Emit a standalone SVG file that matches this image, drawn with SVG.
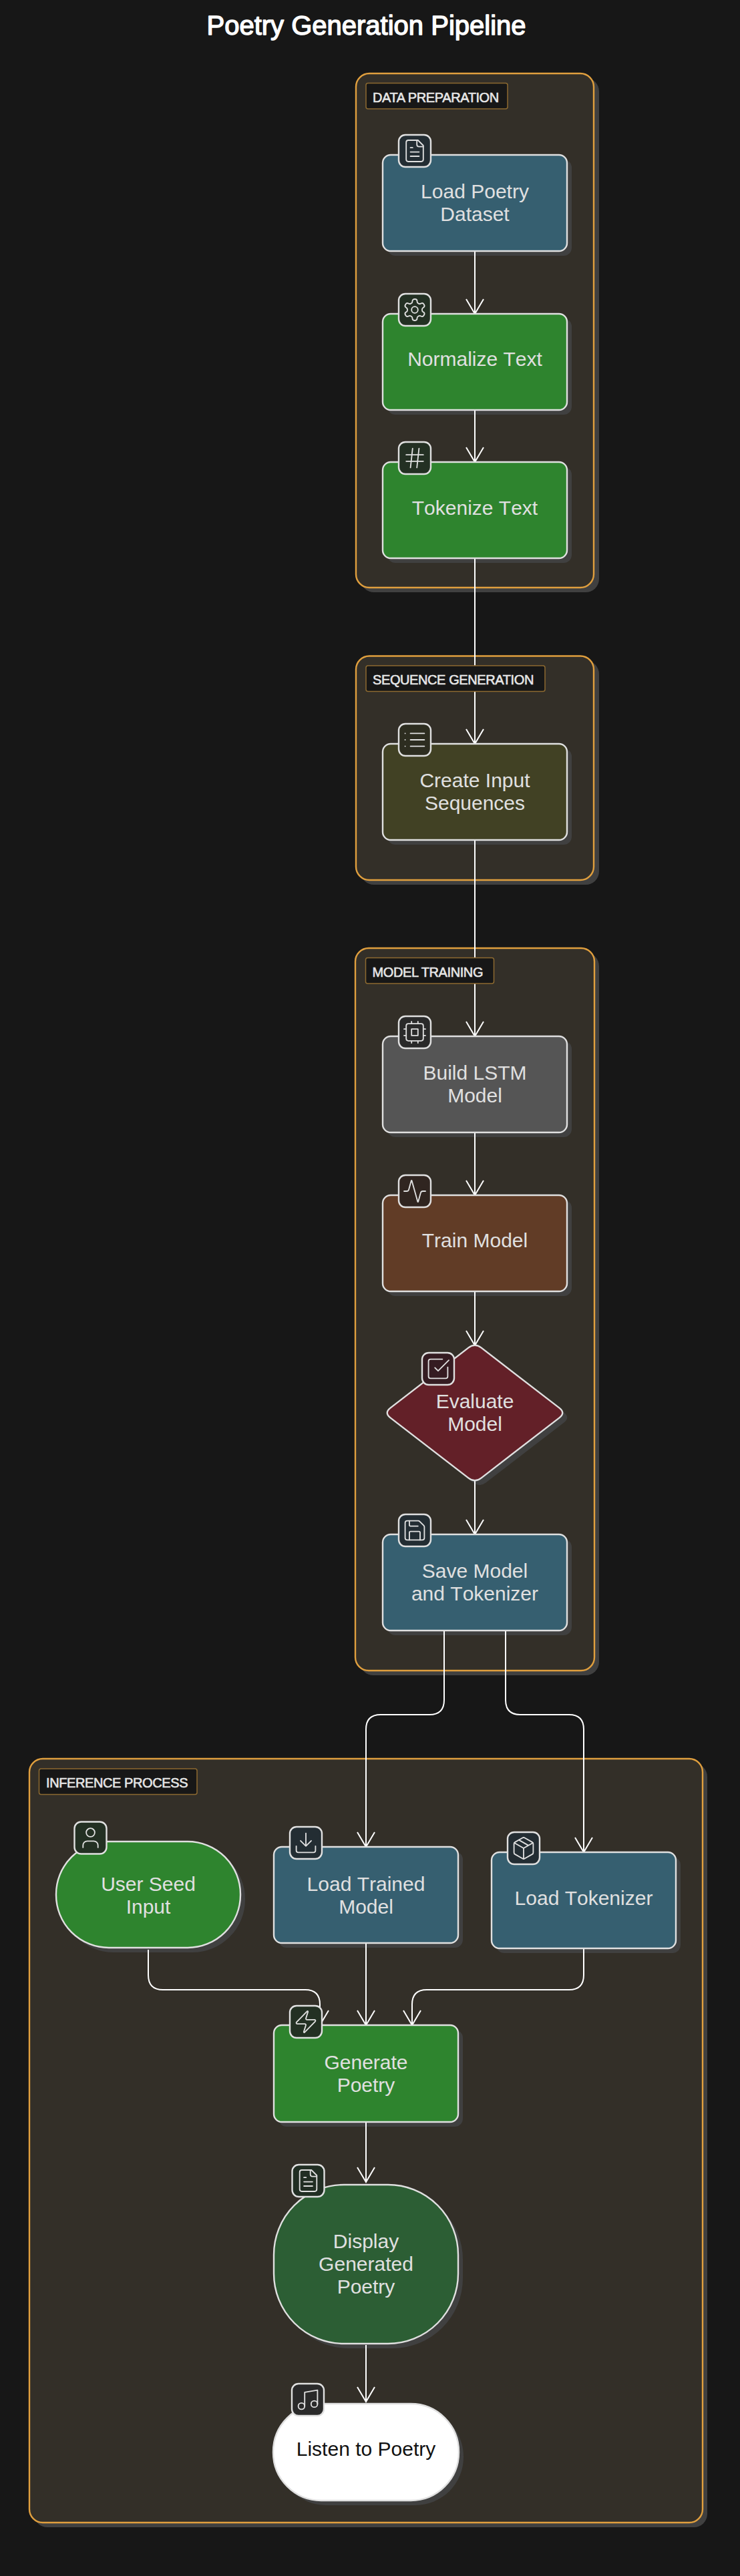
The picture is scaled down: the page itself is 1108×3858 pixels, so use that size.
<svg xmlns="http://www.w3.org/2000/svg" width="1108" height="3858" viewBox="0 0 1108 3858">
<style>
.bg{fill:#171717}
.cl{fill:#332f28;stroke:#e09f3e;stroke-width:2.4}
.sh{fill:#404040}
.lb{fill:#171717;stroke:#8d6a30;stroke-width:1.5}
.lt{font:20px "Liberation Sans",Arial,sans-serif;fill:#e6e6e6;stroke:#e6e6e6;stroke-width:.6;paint-order:stroke;letter-spacing:-.4px}
.n{stroke:#e0e0e0;stroke-width:2.4}
.t{font:30px "Liberation Sans",Arial,sans-serif;font-kerning:none;fill:#e0e0e0;text-anchor:middle}
.ib{stroke:#e0e0e0;stroke-width:2.4}
.ic{fill:none;stroke:#e0e0e0;stroke-width:1.15;stroke-linecap:round;stroke-linejoin:round}
.e{fill:none;stroke:#fff;stroke-width:2;marker-end:url(#arrow)}
.blue{fill:#365f70}.green{fill:#2e842e}.olive{fill:#414124}.gray{fill:#555}.brown{fill:#613c26}.red{fill:#632028}.dgreen{fill:#2c5e34}
.title{font:40px "Liberation Sans",Arial,sans-serif;fill:#fff;stroke:#fff;stroke-width:1.4;stroke-linejoin:round;text-anchor:middle}
</style>
<defs>
<marker id="arrow" markerUnits="userSpaceOnUse" markerWidth="30" markerHeight="32" refX="24" refY="16" orient="auto"><path d="M2 3L24 16L2 29" fill="none" stroke="#fff" stroke-width="2"/></marker>
<symbol id="i-file" viewBox="0 0 24 24"><path class="ic" d="M15 2H6a2 2 0 0 0-2 2v16a2 2 0 0 0 2 2h12a2 2 0 0 0 2-2V7Z"/><path class="ic" d="M14 2v4a2 2 0 0 0 2 2h4M10 9H8M16 13H8M16 17H8"/></symbol>
<symbol id="i-gear" viewBox="0 0 24 24"><path class="ic" d="M12.22 2h-.44a2 2 0 0 0-2 2v.18a2 2 0 0 1-1 1.73l-.43.25a2 2 0 0 1-2 0l-.15-.08a2 2 0 0 0-2.73.73l-.22.38a2 2 0 0 0 .73 2.73l.15.1a2 2 0 0 1 1 1.72v.51a2 2 0 0 1-1 1.74l-.15.09a2 2 0 0 0-.73 2.73l.22.38a2 2 0 0 0 2.73.73l.15-.08a2 2 0 0 1 2 0l.43.25a2 2 0 0 1 1 1.73V20a2 2 0 0 0 2 2h.44a2 2 0 0 0 2-2v-.18a2 2 0 0 1 1-1.73l.43-.25a2 2 0 0 1 2 0l.15.08a2 2 0 0 0 2.73-.73l.22-.39a2 2 0 0 0-.73-2.73l-.15-.08a2 2 0 0 1-1-1.74v-.5a2 2 0 0 1 1-1.74l.15-.09a2 2 0 0 0 .73-2.73l-.22-.38a2 2 0 0 0-2.73-.73l-.15.08a2 2 0 0 1-2 0l-.43-.25a2 2 0 0 1-1-1.73V4a2 2 0 0 0-2-2z"/><circle class="ic" cx="12" cy="12" r="3"/></symbol>
<symbol id="i-hash" viewBox="0 0 24 24"><path class="ic" d="M4 9H20M4 15H20M10 3L8 21M16 3L14 21"/></symbol>
<symbol id="i-list" viewBox="0 0 24 24"><path class="ic" d="M3 12h.01M3 18h.01M3 6h.01M8 12h13M8 18h13M8 6h13"/></symbol>
<symbol id="i-cpu" viewBox="0 0 24 24"><rect class="ic" x="4" y="4" width="16" height="16" rx="2"/><rect class="ic" x="9" y="9" width="6" height="6"/><path class="ic" d="M15 2v2M15 20v2M2 15h2M2 9h2M20 15h2M20 9h2M9 2v2M9 20v2"/></symbol>
<symbol id="i-activity" viewBox="0 0 24 24"><path class="ic" d="M22 12h-2.48a2 2 0 0 0-1.93 1.46l-2.35 8.36a.25.25 0 0 1-.48 0L9.24 2.18a.25.25 0 0 0-.48 0l-2.35 8.36A2 2 0 0 1 4.49 12H2"/></symbol>
<symbol id="i-check" viewBox="0 0 24 24"><path class="ic" d="M21 10.5V19a2 2 0 0 1-2 2H5a2 2 0 0 1-2-2V5a2 2 0 0 1 2-2h11"/><path class="ic" d="m9 11 3 3L22 4"/></symbol>
<symbol id="i-save" viewBox="0 0 24 24"><path class="ic" d="M15.2 3a2 2 0 0 1 1.4.6l3.8 3.8a2 2 0 0 1 .6 1.4V19a2 2 0 0 1-2 2H5a2 2 0 0 1-2-2V5a2 2 0 0 1 2-2z"/><path class="ic" d="M17 21v-7a1 1 0 0 0-1-1H8a1 1 0 0 0-1 1v7M7 3v4a1 1 0 0 0 1 1h7"/></symbol>
<symbol id="i-user" viewBox="0 0 24 24"><path class="ic" d="M19 21v-2a4 4 0 0 0-4-4H9a4 4 0 0 0-4 4v2"/><circle class="ic" cx="12" cy="7" r="4"/></symbol>
<symbol id="i-download" viewBox="0 0 24 24"><path class="ic" d="M21 15v4a2 2 0 0 1-2 2H5a2 2 0 0 1-2-2v-4M7 10l5 5 5-5M12 15V3"/></symbol>
<symbol id="i-package" viewBox="0 0 24 24"><path class="ic" d="M11 21.73a2 2 0 0 0 2 0l7-4A2 2 0 0 0 21 16V8a2 2 0 0 0-1-1.73l-7-4a2 2 0 0 0-2 0l-7 4A2 2 0 0 0 3 8v8a2 2 0 0 0 1 1.73z"/><path class="ic" d="M12 22V12M3.3 7l8.7 5 8.7-5M7.5 4.27l9 5.15"/></symbol>
<symbol id="i-zap" viewBox="0 0 24 24"><path class="ic" d="M4 14a1 1 0 0 1-.78-1.63l9.9-10.2a.5.5 0 0 1 .86.46l-1.92 6.02A1 1 0 0 0 13 10h7a1 1 0 0 1 .78 1.63l-9.9 10.2a.5.5 0 0 1-.86-.46l1.92-6.02A1 1 0 0 0 11 14z"/></symbol>
<symbol id="i-music" viewBox="0 0 24 24"><path class="ic" d="M9 18V5l12-2v13"/><circle class="ic" cx="6" cy="18" r="3"/><circle class="ic" cx="18" cy="16" r="3"/></symbol>
</defs>
<rect class="bg" width="1108" height="3858"/>
<text class="title" x="548.5" y="52">Poetry Generation Pipeline</text>
<g id="clusters">
<g id="cluster-data"><rect class="sh" x="540" y="117" width="357" height="770" rx="20"/><rect class="cl" x="533" y="110" width="356" height="770" rx="20"/></g>
<g id="cluster-seq"><rect class="sh" x="540" y="989.5" width="357" height="335.5" rx="20"/><rect class="cl" x="533" y="982.5" width="356" height="335.5" rx="20"/></g>
<g id="cluster-train"><rect class="sh" x="539" y="1427" width="358" height="1082" rx="20"/><rect class="cl" x="532" y="1420" width="358" height="1082" rx="20"/></g>
<g id="cluster-infer"><rect class="sh" x="51" y="2641" width="1008" height="1144" rx="20"/><rect class="cl" x="44" y="2634" width="1008" height="1144" rx="20"/></g>
</g>
<g id="node-shadows">
<rect class="sh" x="580" y="239" width="276" height="144" rx="12"/>
<rect class="sh" x="580" y="477" width="276" height="144" rx="12"/>
<rect class="sh" x="580" y="699" width="276" height="144" rx="12"/>
<rect class="sh" x="580" y="1121" width="276" height="144" rx="12"/>
<rect class="sh" x="580" y="1559" width="276" height="144" rx="12"/>
<rect class="sh" x="580" y="1797" width="276" height="144" rx="12"/>
<path class="sh" transform="translate(7 7)" d="M701.5 2018.4Q711 2011 720.5 2018.4L837.5 2108.6Q847 2116 837.5 2123.4L720.5 2213.6Q711 2221 701.5 2213.6L584.5 2123.4Q575 2116 584.5 2108.6Z"/>
<rect class="sh" x="580" y="2305" width="276" height="144" rx="12"/>
<rect class="sh" x="91" y="2765" width="276" height="159" rx="79"/>
<rect class="sh" x="417" y="2773" width="276" height="144" rx="12"/>
<rect class="sh" x="743" y="2781" width="276" height="144" rx="12"/>
<rect class="sh" x="417" y="3040" width="276" height="145" rx="12"/>
<rect class="sh" x="417" y="3279" width="276" height="238" rx="105"/>
<rect class="sh" x="416" y="3607" width="278" height="145" rx="72"/>
</g>
<g id="connectors">
<path class="e" d="M711 376V470"/>
<path class="e" d="M711 614V692"/>
<path class="e" d="M711 836V1114"/>
<path class="e" d="M711 1258V1552"/>
<path class="e" d="M711 1696V1790"/>
<path class="e" d="M711 1934V2015"/>
<path class="e" d="M711 2217V2298"/>
<path class="e" d="M665 2442V2546Q665 2568 643 2568H570Q548 2568 548 2590V2766"/>
<path class="e" d="M757 2442V2546Q757 2568 779 2568H852Q874 2568 874 2590V2774"/>
<path class="e" d="M222 2920V2958Q222 2980 244 2980H457Q479 2980 479 3002V3033"/>
<path class="e" d="M548 2910V3033"/>
<path class="e" d="M874 2918V2958Q874 2980 852 2980H639Q617 2980 617 3002V3033"/>
<path class="e" d="M548 3178V3268"/>
<path class="e" d="M548 3512V3597"/>
</g>
<g id="labels">
<g id="label-data"><rect class="lb" x="548" y="124.5" width="212" height="38.5" rx="3"/><text class="lt" x="558" y="153">DATA PREPARATION</text></g>
<g id="label-seq"><rect class="lb" x="548" y="997" width="268" height="38.5" rx="3"/><text class="lt" x="558" y="1025">SEQUENCE GENERATION</text></g>
<g id="label-train"><rect class="lb" x="547.5" y="1434.5" width="192" height="38.5" rx="3"/><text class="lt" x="557.5" y="1463">MODEL TRAINING</text></g>
<g id="label-infer"><rect class="lb" x="58.5" y="2649" width="236.5" height="38.5" rx="3"/><text class="lt" x="69" y="2677">INFERENCE PROCESS</text></g>
</g>
<g id="node-load-poetry"><rect class="n blue" x="573" y="232" width="276" height="144" rx="12"/><rect class="ib" fill="#232d33" x="597" y="202" width="48" height="48" rx="10"/><use href="#i-file" x="601.8" y="206.8" width="38.4" height="38.4"/><text class="t" x="711" y="297">Load Poetry<tspan x="711" y="331">Dataset</tspan></text></g>
<g id="node-normalize"><rect class="n green" x="573" y="470" width="276" height="144" rx="12"/><rect class="ib" fill="#233023" x="597" y="440" width="48" height="48" rx="10"/><use href="#i-gear" x="601.8" y="444.8" width="38.4" height="38.4"/><text class="t" x="711" y="548">Normalize Text</text></g>
<g id="node-tokenize"><rect class="n green" x="573" y="692" width="276" height="144" rx="12"/><rect class="ib" fill="#233023" x="597" y="662" width="48" height="48" rx="10"/><use href="#i-hash" x="601.8" y="666.8" width="38.4" height="38.4"/><text class="t" x="711" y="771">Tokenize Text</text></g>
<g id="node-sequences"><rect class="n olive" x="573" y="1114" width="276" height="144" rx="12"/><rect class="ib" fill="#2d2d20" x="597" y="1084" width="48" height="48" rx="10"/><use href="#i-list" x="601.8" y="1088.8" width="38.4" height="38.4"/><text class="t" x="711" y="1179">Create Input<tspan x="711" y="1213">Sequences</tspan></text></g>
<g id="node-build"><rect class="n gray" x="573" y="1552" width="276" height="144" rx="12"/><rect class="ib" fill="#2a2a2a" x="597" y="1522" width="48" height="48" rx="10"/><use href="#i-cpu" x="601.8" y="1526.8" width="38.4" height="38.4"/><text class="t" x="711" y="1617">Build LSTM<tspan x="711" y="1651">Model</tspan></text></g>
<g id="node-train"><rect class="n brown" x="573" y="1790" width="276" height="144" rx="12"/><rect class="ib" fill="#302520" x="597" y="1760" width="48" height="48" rx="10"/><use href="#i-activity" x="601.8" y="1764.8" width="38.4" height="38.4"/><text class="t" x="711" y="1868">Train Model</text></g>
<g id="node-evaluate"><path class="n red" d="M701.5 2018.4Q711 2011 720.5 2018.4L837.5 2108.6Q847 2116 837.5 2123.4L720.5 2213.6Q711 2221 701.5 2213.6L584.5 2123.4Q575 2116 584.5 2108.6Z"/><rect class="ib" fill="#351c22" x="632" y="2026" width="48" height="48" rx="10"/><use href="#i-check" x="636.8" y="2030.8" width="38.4" height="38.4"/><text class="t" x="711" y="2109">Evaluate<tspan x="711" y="2143">Model</tspan></text></g>
<g id="node-save"><rect class="n blue" x="573" y="2298" width="276" height="144" rx="12"/><rect class="ib" fill="#232d33" x="597" y="2268" width="48" height="48" rx="10"/><use href="#i-save" x="601.8" y="2272.8" width="38.4" height="38.4"/><text class="t" x="711" y="2363">Save Model<tspan x="711" y="2397">and Tokenizer</tspan></text></g>
<g id="node-user-seed"><rect class="n green" x="84" y="2758" width="276" height="159" rx="79"/><rect class="ib" fill="#233023" x="111.5" y="2728.5" width="48" height="48" rx="10"/><use href="#i-user" x="116.3" y="2733.3" width="38.4" height="38.4"/><text class="t" x="222" y="2832">User Seed<tspan x="222" y="2866">Input</tspan></text></g>
<g id="node-load-model"><rect class="n blue" x="410" y="2766" width="276" height="144" rx="12"/><rect class="ib" fill="#232d33" x="434" y="2736" width="48" height="48" rx="10"/><use href="#i-download" x="438.8" y="2740.8" width="38.4" height="38.4"/><text class="t" x="548" y="2832">Load Trained<tspan x="548" y="2866">Model</tspan></text></g>
<g id="node-load-tokenizer"><rect class="n blue" x="736" y="2774" width="276" height="144" rx="12"/><rect class="ib" fill="#232d33" x="760" y="2744" width="48" height="48" rx="10"/><use href="#i-package" x="764.8" y="2748.8" width="38.4" height="38.4"/><text class="t" x="874" y="2853">Load Tokenizer</text></g>
<g id="node-generate"><rect class="n green" x="410" y="3033" width="276" height="145" rx="12"/><rect class="ib" fill="#233023" x="434" y="3004" width="48" height="48" rx="10"/><use href="#i-zap" x="438.8" y="3008.8" width="38.4" height="38.4"/><text class="t" x="548" y="3099">Generate<tspan x="548" y="3133">Poetry</tspan></text></g>
<g id="node-display"><rect class="n dgreen" x="410" y="3272" width="276" height="238" rx="105"/><rect class="ib" fill="#212e23" x="437.5" y="3242" width="48" height="48" rx="10"/><use href="#i-file" x="442.3" y="3246.8" width="38.4" height="38.4"/><text class="t" x="548" y="3367">Display<tspan x="548" y="3401">Generated</tspan><tspan x="548" y="3435">Poetry</tspan></text></g>
<g id="node-listen"><rect class="n" fill="#fff" x="409" y="3600" width="278" height="145" rx="72"/><rect class="ib" fill="#2a2a2a" x="437" y="3570" width="48" height="48" rx="10"/><use href="#i-music" x="441.8" y="3574.8" width="38.4" height="38.4"/><text class="t" style="fill:#111" x="548" y="3678">Listen to Poetry</text></g>
</svg>
